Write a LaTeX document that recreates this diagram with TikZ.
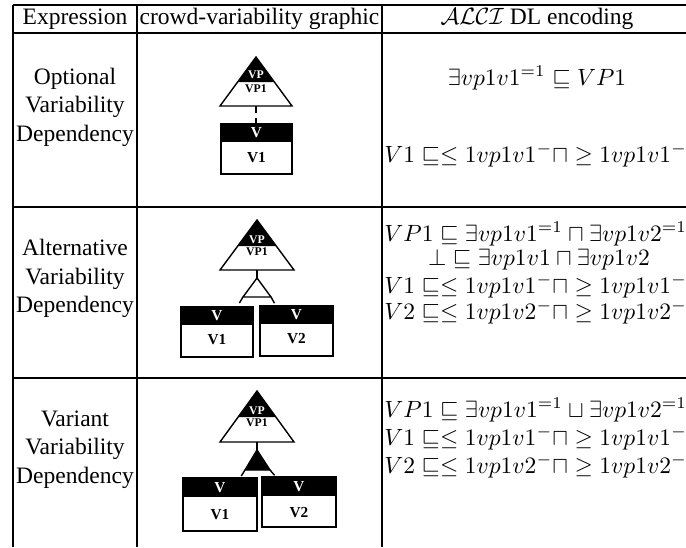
\documentclass[tikz,border=0pt]{standalone}
\usepackage{amsmath}
\usepackage{fontspec}
\setmainfont{Liberation Serif}
\usepackage{tikz}

\begin{document}
\begin{tikzpicture}[x=0.425pt, y=-0.425pt,
    rule/.style={line width=0.5pt},
    cell/.style={inner sep=0pt, align=center, font=\fontsize{10}{12.1}\selectfont},
    dl/.style={inner sep=0pt, font=\fontsize{10}{12}\selectfont},
    vplabel/.style={inner sep=0pt, font=\fontsize{5}{6}\selectfont\bfseries},
    vlabel/.style={inner sep=0pt, font=\fontsize{6.5}{7}\selectfont\bfseries},
    outline/.style={line width=0.6pt},
    link/.style={line width=0.6pt, densely dashed}]
            \useasboundingbox (0,0) rectangle (686,547);
            \clip (0,0) rectangle (686,547);

            % table rules
            \draw [rule] (13,5) -- (700,5);
            \draw [rule] (13,33) -- (700,33);
            \draw [rule] (13,207) -- (700,207);
            \draw [rule] (13,378) -- (700,378);
            \draw [rule] (13,5) -- (13,547);
            \draw [rule] (137,5) -- (137,547);
            \draw [rule] (382,5) -- (382,547);

            % header
            \node [cell] (head-expr) at (75,19) {Expression};
            \node [cell] (head-graph) at (259.5,19) {crowd-variability graphic};
            \node [cell] (head-dl) at (537,19) {$\mathcal{ALCI}$ DL encoding};

            % expressions
            \node [cell] (optional) at (75,107) {Optional\\Variability\\Dependency};
            \node [cell] (alternative) at (75,278.5) {Alternative\\Variability\\Dependency};
            \node [cell] (variant) at (75,449.5) {Variant\\Variability\\Dependency};

            % optional graphic
            \fill (256,57) -- (237.6,82) -- (274.4,82) -- cycle;
            \draw [outline] (256,57) -- (220,106) -- (292,106) -- cycle;
            \node [vplabel, text=white] (vp-a) at (256,75) {VP};
            \node [vplabel] (vpone-a) at (256,89) {VP1};
            \fill (221,124) rectangle (292,142);
            \draw [outline] (221,124) rectangle (292,174);
            \node [vlabel, text=white] (v-a) at (256.5,133) {V};
            \node [vlabel] (vone-a) at (256.5,158) {V1};
            \coordinate (tri-a) at (256,106);
            \coordinate (box-a) at (256,124);
            \draw [link] (tri-a) -- (box-a);

            % alternative graphic
            \fill (257,220) -- (237.8,246) -- (276.2,246) -- cycle;
            \draw [outline] (257,220) -- (220,270) -- (294,270) -- cycle;
            \node [vplabel, text=white] (vp-b) at (257,240) {VP};
            \node [vplabel] (vpone-b) at (257,252) {VP1};
            \coordinate (tri-b) at (257,270);
            \coordinate (alt-top) at (257,278);
            \draw [outline] (tri-b) -- (alt-top);
            \draw [outline] (alt-top) -- (243,297) -- (271,297) -- cycle;
            \fill (181,307) rectangle (253,325);
            \draw [outline] (181,307) rectangle (253,357);
            \node [vlabel, text=white] (v-b1) at (217,316) {V};
            \node [vlabel] (vone-b) at (217,340) {V1};
            \fill (260,306) rectangle (333,324);
            \draw [outline] (260,306) rectangle (333,356);
            \node [vlabel, text=white] (v-b2) at (296.5,315) {V};
            \node [vlabel] (vtwo-b) at (296.5,339) {V2};
            \coordinate (alt-l) at (243,297);
            \coordinate (alt-r) at (271,297);
            \coordinate (box-b1) at (237,307);
            \coordinate (box-b2) at (276,306);
            \draw [link] (alt-l) -- (box-b1);
            \draw [link] (alt-r) -- (box-b2);

            % variant graphic
            \fill (257,391) -- (238.1,417) -- (275.9,417) -- cycle;
            \draw [outline] (257,391) -- (220,442) -- (294,442) -- cycle;
            \node [vplabel, text=white] (vp-c) at (257,411) {VP};
            \node [vplabel] (vpone-c) at (257,423) {VP1};
            \coordinate (tri-c) at (257,442);
            \coordinate (var-top) at (257,450);
            \draw [outline] (tri-c) -- (var-top);
            \filldraw [outline] (var-top) -- (245,470) -- (270,470) -- cycle;
            \fill (183,478) rectangle (257,497);
            \draw [outline] (183,478) rectangle (257,531);
            \node [vlabel, text=white] (v-c1) at (220,487.5) {V};
            \node [vlabel] (vone-c) at (220,515) {V1};
            \fill (262,477) rectangle (336,496);
            \draw [outline] (262,477) rectangle (336,527);
            \node [vlabel, text=white] (v-c2) at (299,486.5) {V};
            \node [vlabel] (vtwo-c) at (299,513) {V2};
            \coordinate (var-l) at (245,470);
            \coordinate (var-r) at (270,470);
            \coordinate (box-c1) at (240,478);
            \coordinate (box-c2) at (276,477);
            \draw [link] (var-l) -- (box-c1);
            \draw [link] (var-r) -- (box-c2);

            % DL encodings
            \node [dl] (dl-a1) at (537,78) {$\exists vp1v1^{=1} \sqsubseteq VP1$};
            \node [dl, anchor=west] (dl-a2) at (384,155) {$V1 \sqsubseteq \leq 1 vp1v1^{-} \sqcap \geq 1 vp1v1^{-}$};

            \node [dl, anchor=west] (dl-b1) at (384,234) {$VP1 \sqsubseteq \exists vp1v1^{=1} \sqcap \exists vp1v2^{=1}$};
            \node [dl] (dl-b2) at (539,260) {$\bot \sqsubseteq \exists vp1v1 \sqcap \exists vp1v2$};
            \node [dl, anchor=west] (dl-b3) at (384,286) {$V1 \sqsubseteq \leq 1 vp1v1^{-} \sqcap \geq 1 vp1v1^{-}$};
            \node [dl, anchor=west] (dl-b4) at (384,312) {$V2 \sqsubseteq \leq 1 vp1v2^{-} \sqcap \geq 1 vp1v2^{-}$};

            \node [dl, anchor=west] (dl-c1) at (384,410) {$VP1 \sqsubseteq \exists vp1v1^{=1} \sqcup \exists vp1v2^{=1}$};
            \node [dl, anchor=west] (dl-c2) at (384,438) {$V1 \sqsubseteq \leq 1 vp1v1^{-} \sqcap \geq 1 vp1v1^{-}$};
            \node [dl, anchor=west] (dl-c3) at (384,466) {$V2 \sqsubseteq \leq 1 vp1v2^{-} \sqcap \geq 1 vp1v2^{-}$};
        \end{tikzpicture}
\end{document}
